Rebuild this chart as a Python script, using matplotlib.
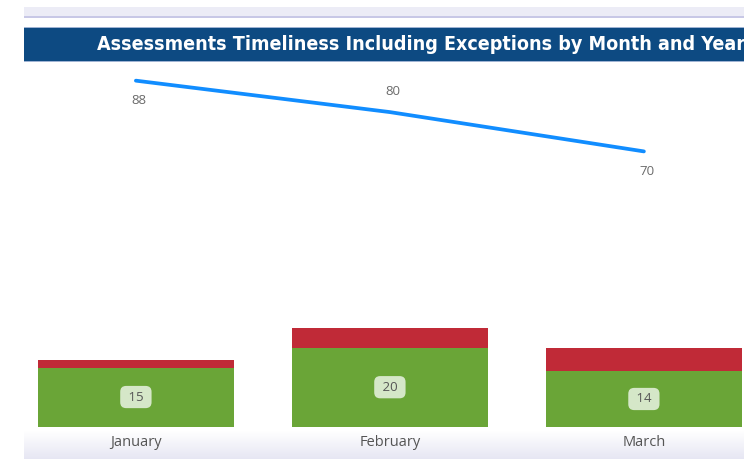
import numpy as np
import matplotlib
matplotlib.use('Agg')
import matplotlib.pyplot as plt
from matplotlib.colors import LinearSegmentedColormap
from matplotlib.patches import Rectangle

months = ['January', 'February', 'March']
on_time = [15, 20, 14]          # green part
late = [2, 5, 6]                # red part on top
timeliness = [88, 80, 70]       # blue line
line_label_dy = [-14.5, 14.5, -14.5]

title = 'Assessments Timeliness Including Exceptions by Month and Year'

W, H = 744, 459
fig = plt.figure(figsize=(W / 100, H / 100), dpi=100)
fig.patch.set_facecolor('white')

def px(x0, y0, x1, y1):
    # pixel box (from top-left) -> figure fraction rect
    return [x0 / W, 1 - y1 / H, (x1 - x0) / W, (y1 - y0) / H]

# top band + thin line
fig.patches.append(Rectangle((24 / W, 1 - 16 / H), 720 / W, 9 / H, transform=fig.transFigure,
                             fc='#ececf6', ec='none', zorder=0))
fig.patches.append(Rectangle((24 / W, 1 - 17.5 / H), 720 / W, 1.5 / H, transform=fig.transFigure,
                             fc='#c8c8e6', ec='none', zorder=0))
# title bar
fig.patches.append(Rectangle((24 / W, 1 - 62 / H), 720 / W, 35 / H, transform=fig.transFigure,
                             fc='#9fb3d3', ec='none', zorder=0))
fig.patches.append(Rectangle((24 / W, 1 - 60.5 / H), 720 / W, 32 / H, transform=fig.transFigure,
                             fc='#0d4a82', ec='none', zorder=0))
t = fig.text(97 / W, 1 - 44 / H, title, color='white', fontsize=14.5, fontweight='bold',
             family='DejaVu Sans', fontstretch='condensed', va='center', ha='left')
# squeeze the title so it ends at the right border like in the report
r = fig.canvas.get_renderer()
tw = t.get_window_extent(r).width
t.set_fontsize(14.5 * 644 / tw)

# bottom gradient band
bax = fig.add_axes(px(24, 431, 744, 459))
grad = np.linspace(0, 1, 100).reshape(-1, 1)
cmap = LinearSegmentedColormap.from_list('band', ['#ffffff', '#e6e6f3'])
bax.imshow(grad, aspect='auto', cmap=cmap, extent=[0, 1, 0, 1], origin='upper')
bax.axis('off')

# main plot
ax = fig.add_axes(px(0, 62, 744, 426.5))
ax.patch.set_alpha(0)
x = np.arange(len(months))
ax.bar(x, on_time, width=0.77, color='#6aa537', zorder=2)
ax.bar(x, late, bottom=on_time, width=0.77, color='#c02a37', zorder=2)

for xi, v in zip(x, on_time):
    ax.text(xi, v / 2, ' %d ' % v, ha='center', va='center', fontsize=9.5, color='#555555',
            family='Open Sans',
            bbox=dict(boxstyle='round,pad=0.35,rounding_size=0.45', fc='#d5e7c8', ec='none'), zorder=4)

ax.plot(x, timeliness, color='#118dff', lw=2.7, solid_capstyle='round', zorder=3)
for xi, v, dy in zip(x, timeliness, line_label_dy):
    ax.annotate(str(v), (xi, v), xytext=(2, dy), textcoords='offset points',
                ha='center', va='center', fontsize=9.5, color='#6b6b6b', family='Open Sans')

ax.set_xlim(-0.535, -0.535 + W / 254)
ax.set_ylim(0, 364.5 / 3.93)
ax.set_xticks(x)
ax.set_xticklabels(months, fontsize=10.5, color='#555555', family='Open Sans')
ax.tick_params(axis='x', length=0, pad=6)
ax.set_yticks([])
for s in ax.spines.values():
    s.set_visible(False)

fig.savefig('out.png', dpi=100)
